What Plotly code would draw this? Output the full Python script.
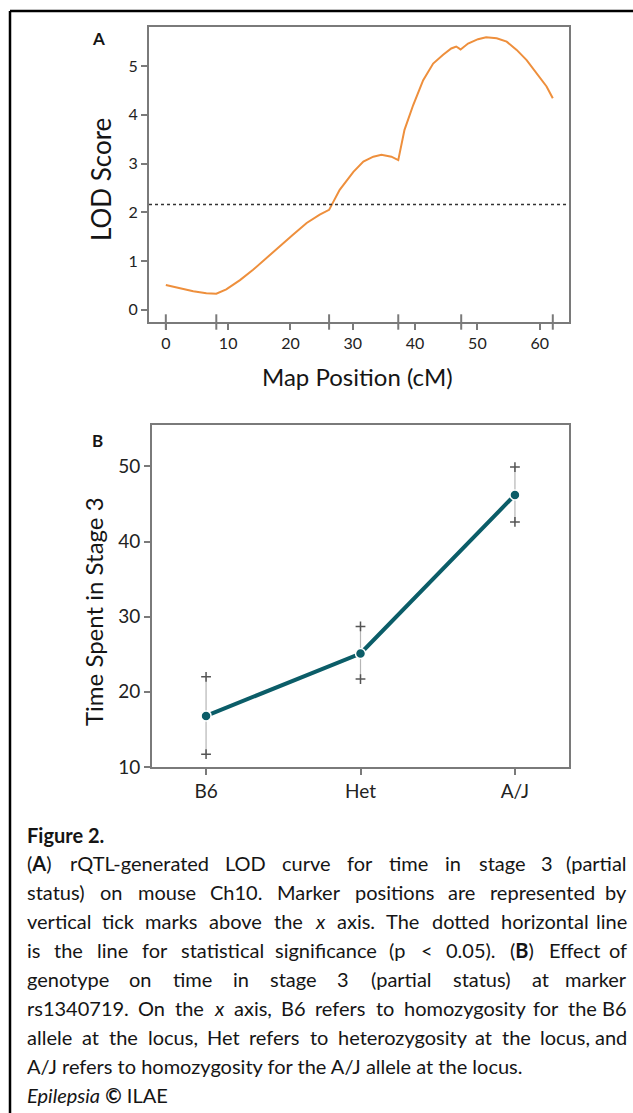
import re
import html
import plotly.graph_objects as go

# ---------------- Data ----------------
# Panel A: LOD curve (cM, LOD)
map_pos = [0, 2.2, 4.4, 6.5, 8.1, 9.7, 11.9, 14.0, 16.1, 18.3, 20.4, 22.6, 24.7, 26.2,
           27.9, 30.1, 31.7, 33.3, 34.6, 36.2, 37.3, 38.3, 39.7, 41.3, 42.9, 44.5,
           45.8, 46.6, 47.3, 48.5, 50.1, 51.4, 53.1, 54.7, 56.3, 57.9, 59.5, 61.1, 62.1]
lod_score = [0.51, 0.45, 0.38, 0.34, 0.33, 0.42, 0.61, 0.82, 1.06, 1.30, 1.54, 1.78, 1.95, 2.05,
             2.46, 2.83, 3.04, 3.14, 3.18, 3.14, 3.07, 3.69, 4.20, 4.71, 5.05, 5.23,
             5.36, 5.40, 5.34, 5.46, 5.55, 5.59, 5.57, 5.50, 5.33, 5.12, 4.85, 4.58, 4.34]
marker_positions = [0, 8.1, 26.2, 37.3, 47.4, 62.1]
significance_lod = 2.16
x_ticks_a = [0, 10, 20, 30, 40, 50, 60]
y_ticks_a = [0, 1, 2, 3, 4, 5]

# Panel B: effect plot
genotypes = ["B6", "Het", "A/J"]
mean_time = [16.8, 25.1, 46.2]
upper_time = [22.0, 28.7, 49.9]
lower_time = [11.7, 21.7, 42.6]
y_ticks_b = [10, 20, 30, 40, 50]

caption_title = "Figure 2."
caption_justified = [
    "(<b>A</b>) rQTL-generated LOD curve for time in stage 3 (partial",
    "status) on mouse Ch10. Marker positions are represented by",
    "vertical tick marks above the <i>x</i> axis. The dotted horizontal line",
    "is the line for statistical significance (p &lt; 0.05). (<b>B</b>) Effect of",
    "genotype on time in stage 3 (partial status) at marker",
    "rs1340719. On the <i>x</i> axis, B6 refers to homozygosity for the B6",
    "allele at the locus, Het refers to heterozygosity at the locus, and",
]
caption_last = [
    "A/J refers to homozygosity for the A/J allele at the locus.",
    "<i>Epilepsia</i> <b>©</b> ILAE",
]

# ---------------- Layout helpers ----------------
W, H = 633, 1113
FONT = "Lato"
AXC = "#7a7a7a"
TXT = "#151515"


def px_x(p):
    return p / W


def px_y(p):
    return 1 - p / H


# rough Lato advance widths (em)
CW = {' ': .22, '.': .21, ',': .21, '(': .31, ')': .31, '-': .34, '/': .38, '<': .58,
      '©': .78}
for c, w in zip("abcdefghijklmnopqrstuvwxyz",
                [.49, .55, .45, .55, .52, .32, .50, .55, .24, .24, .49, .24, .82, .55, .55,
                 .55, .55, .36, .42, .34, .55, .49, .74, .48, .49, .44]):
    CW[c] = w
for c, w in zip("ABCDEFGHIJKLMNOPQRSTUVWXYZ",
                [.65, .63, .65, .72, .55, .53, .70, .74, .28, .38, .65, .49, .88, .74, .77,
                 .59, .77, .61, .52, .57, .71, .65, .97, .63, .61, .59]):
    CW[c] = w
for c in "0123456789":
    CW[c] = .58


def text_width(s, size):
    plain = html.unescape(re.sub(r"<[^>]+>", "", s))
    return sum(CW.get(c, .55) for c in plain) * size


fig = go.Figure()

# Panel A
fig.add_trace(go.Scatter(x=map_pos, y=lod_score, mode="lines",
                         line=dict(color="#ee8f3c", width=2),
                         xaxis="x", yaxis="y", showlegend=False))
fig.add_trace(go.Scatter(x=marker_positions, y=[-0.25] * len(marker_positions), mode="markers",
                         marker=dict(symbol="line-ns", size=11,
                                     line=dict(color=AXC, width=2)),
                         cliponaxis=False, xaxis="x", yaxis="y", showlegend=False))

# Panel B
err_plus = [u - m for u, m in zip(upper_time, mean_time)]
err_minus = [m - l for m, l in zip(mean_time, lower_time)]
xb = list(range(len(genotypes)))
fig.add_trace(go.Scatter(x=xb, y=mean_time, mode="markers",
                         marker=dict(size=0.1, color="rgba(0,0,0,0)"),
                         error_y=dict(type="data", symmetric=False, array=err_plus,
                                      arrayminus=err_minus, color="#b5b5b5",
                                      thickness=1.2, width=0),
                         xaxis="x2", yaxis="y2", showlegend=False))
fig.add_trace(go.Scatter(x=xb + xb, y=upper_time + lower_time, mode="markers",
                         marker=dict(symbol="cross-thin", size=7,
                                     line=dict(color="#555555", width=1.5)),
                         xaxis="x2", yaxis="y2", showlegend=False))
fig.add_trace(go.Scatter(x=xb, y=mean_time, mode="lines+markers",
                         line=dict(color="#0b5d68", width=4),
                         marker=dict(size=10, color="#0b5d68",
                                     line=dict(color="white", width=1.5)),
                         xaxis="x2", yaxis="y2", showlegend=False))

tickfont_a = dict(family=FONT, size=16, color="#222")
tickfont_b = dict(family=FONT, size=19, color="#222")
common_axis = dict(showgrid=False, zeroline=False, showline=True, mirror=True,
                   linecolor=AXC, linewidth=2, ticks="outside", ticklen=6,
                   tickcolor=AXC, tickwidth=2, automargin=False)

fig.update_layout(
    width=W, height=H, margin=dict(l=0, r=0, t=0, b=0, autoexpand=False),
    paper_bgcolor="white", plot_bgcolor="white",
    xaxis=dict(domain=[px_x(149), px_x(569)], range=[-2.7, 64.7],
               tickvals=x_ticks_a, tickfont=tickfont_a, anchor="y", **common_axis),
    yaxis=dict(domain=[px_y(322), px_y(27)], range=[-0.25, 5.8],
               tickvals=y_ticks_a, tickfont=tickfont_a, anchor="x", **common_axis),
    xaxis2=dict(domain=[px_x(152), px_x(569)], range=[-0.35, 2.35],
                tickvals=xb, ticktext=genotypes, tickfont=tickfont_b, anchor="y2",
                **common_axis),
    yaxis2=dict(domain=[px_y(767), px_y(425)], range=[10, 55.5],
                tickvals=y_ticks_b, tickfont=tickfont_b, anchor="x2", **common_axis),
)

# significance line
fig.add_shape(type="line", xref="x domain", yref="y", x0=0, x1=1,
              y0=significance_lod, y1=significance_lod,
              line=dict(color="#333", width=1.5, dash="dot"))

# frame border of the figure
fig.add_shape(type="line", xref="paper", yref="paper", x0=px_x(10), x1=1,
              y0=px_y(11), y1=px_y(11), line=dict(color="black", width=2.5))
fig.add_shape(type="line", xref="paper", yref="paper", x0=px_x(10), x1=px_x(10),
              y0=0, y1=px_y(11), line=dict(color="black", width=2.5))

ann = []


def add_text(text, x, y, size, xanchor="center", angle=0):
    ann.append(dict(text=text, x=px_x(x), y=px_y(y), xref="paper", yref="paper",
                    xanchor=xanchor, yanchor="middle", textangle=angle, showarrow=False,
                    font=dict(family=FONT, size=size, color=TXT)))


add_text("<b>A</b>", 98, 38, 17)
add_text("<b>B</b>", 97, 440, 17)
add_text("LOD Score", 101, 180, 26, angle=-90)
add_text("Map Position (cM)", 357, 376, 24)
add_text("Time Spent in Stage 3", 93, 612, 24, angle=-90)

CAP_SIZE = 20
LEFT, RIGHT = 25, 629
add_text("<b>" + caption_title + "</b>", LEFT, 835, 20, xanchor="left")
row = 0
for line in caption_justified:
    y = 863 + 29 * row
    words = line.split(" ")
    widths = [text_width(w, CAP_SIZE) for w in words]
    gap = max(3.0, (RIGHT - LEFT - sum(widths)) / (len(words) - 1))
    x = LEFT
    for k, (w, wd) in enumerate(zip(words, widths)):
        if k == len(words) - 1:
            add_text(w, RIGHT, y, CAP_SIZE, xanchor="right")
        else:
            add_text(w, x, y, CAP_SIZE, xanchor="left")
        x += wd + gap
    row += 1
for line in caption_last:
    add_text(line, LEFT, 863 + 29 * row, CAP_SIZE, xanchor="left")
    row += 1

fig.update_layout(annotations=ann)

# remove the default 8px page margin so the figure sits at the page origin
fig.write_html("out.html",
               config={"displayModeBar": False, "staticPlot": True},
               post_script="document.body.style.margin='0';document.body.style.overflow='hidden';")
